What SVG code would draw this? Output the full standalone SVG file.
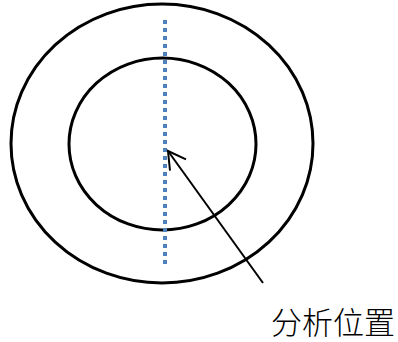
<svg xmlns="http://www.w3.org/2000/svg" width="398" height="342" viewBox="0 0 398 342">
<style>
.ring{fill:none;stroke:#000;stroke-width:3}
.axis{stroke:#4F81BD;stroke-width:4;stroke-dasharray:4 4}
.arrow{fill:none;stroke:#000;stroke-width:2}
.label{font-family:"Noto Sans CJK SC","Noto Sans CJK JP",sans-serif;font-size:31px;font-weight:300;fill:#000}
</style>
<g id="outer"><ellipse class="ring" cx="162" cy="143.5" rx="151" ry="139.5"/></g>
<g id="inner"><ellipse class="ring" cx="162.5" cy="144" rx="93.5" ry="86"/></g>
<g id="axis"><line class="axis" x1="165" y1="20" x2="165" y2="265"/></g>
<g id="connectors">
<line class="arrow" x1="263" y1="283" x2="168" y2="151"/>
<polyline class="arrow" points="186,159.3 168,151 170,170.7"/>
</g>
<g id="label"><text class="label" x="271" y="334">分析位置</text></g>
</svg>
